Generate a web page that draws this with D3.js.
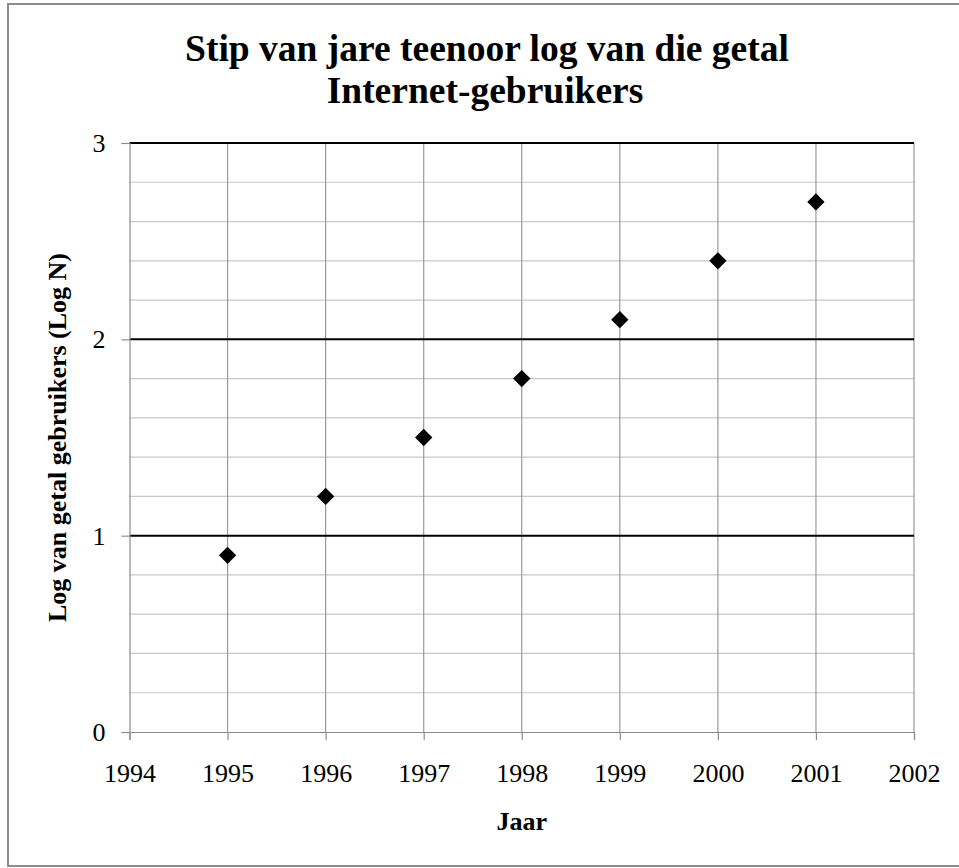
<!DOCTYPE html>
<html lang="af">
<head>
<meta charset="UTF-8">
<title>Stip van jare teenoor log van die getal Internet-gebruikers</title>
<script src="https://cdnjs.cloudflare.com/ajax/libs/d3/7.8.5/d3.min.js"></script>
<style>
  body { margin: 0; background: #fff; }
  text { font-family: "Liberation Serif", "Times New Roman", serif; fill: #000; }
</style>
</head>
<body>
<svg id="chart" width="959" height="868"></svg>
<script>
// data
var years = [1995, 1996, 1997, 1998, 1999, 2000, 2001];
var logN = [0.9, 1.2, 1.5, 1.8, 2.1, 2.4, 2.7];
var xTicks = [1994, 1995, 1996, 1997, 1998, 1999, 2000, 2001, 2002];
var yMajor = [0, 1, 2, 3];
var yMinor = [0.2, 0.4, 0.6, 0.8, 1.2, 1.4, 1.6, 1.8, 2.2, 2.4, 2.6, 2.8];

var svg = d3.select("#chart");

// outer frame
svg.append("rect")
    .attr("x", 8).attr("y", 4)
    .attr("width", 960).attr("height", 862)
    .attr("fill", "#fff")
    .attr("stroke", "#8c8c8c")
    .attr("stroke-width", 2);

var plotL = 129.5, plotR = 914, plotT = 143, plotB = 732;

var x = d3.scaleLinear().domain([1994, 2002]).range([plotL, plotR]);
var y = d3.scaleLinear().domain([0, 3]).range([plotB, plotT]);

var g = svg.append("g");

// minor horizontal grid
g.selectAll(".minor").data(yMinor).enter().append("line")
    .attr("x1", plotL).attr("x2", plotR)
    .attr("y1", function(d) { return y(d); })
    .attr("y2", function(d) { return y(d); })
    .attr("stroke", "#c8c8c8").attr("stroke-width", 1.2);

// vertical grid
g.selectAll(".vgrid").data(xTicks.slice(1)).enter().append("line")
    .attr("x1", function(d) { return x(d); })
    .attr("x2", function(d) { return x(d); })
    .attr("y1", plotT).attr("y2", plotB)
    .attr("stroke", "#9a9a9a").attr("stroke-width", 1.2);

// major horizontal grid
g.selectAll(".major").data(yMajor.slice(1)).enter().append("line")
    .attr("x1", plotL).attr("x2", plotR)
    .attr("y1", function(d) { return y(d); })
    .attr("y2", function(d) { return y(d); })
    .attr("stroke", "#000").attr("stroke-width", 2);

// axes
var xAxis = d3.axisBottom(x).tickValues(xTicks).tickFormat(d3.format("d"))
    .tickSize(8).tickPadding(42);
var yAxis = d3.axisLeft(y).tickValues(yMajor).tickFormat(d3.format("d"))
    .tickSize(8).tickPadding(16);

var gx = svg.append("g").attr("transform", "translate(0," + plotB + ")").call(xAxis);
var gy = svg.append("g").attr("transform", "translate(" + plotL + ",0)").call(yAxis);

[gx, gy].forEach(function(a) {
    a.select(".domain").attr("stroke", "#8c8c8c").attr("stroke-width", 1.2);
    a.selectAll(".tick line").attr("stroke", "#8c8c8c").attr("stroke-width", 1.2);
    a.selectAll(".tick text")
        .style("font-family", "'Liberation Serif', 'Times New Roman', serif")
        .style("font-size", "26px").attr("fill", "#000");
});
gx.selectAll(".tick text").attr("dy", "0");
gy.selectAll(".tick text").attr("dy", "0.33em");

// points
svg.selectAll(".pt").data(years).enter().append("path")
    .attr("d", d3.symbol().type(d3.symbolSquare).size(150))
    .attr("transform", function(d, i) {
        return "translate(" + x(d) + "," + y(logN[i]) + ") rotate(45)";
    })
    .attr("fill", "#000");

// titles
svg.append("text").attr("x", 487).attr("y", 61)
    .attr("text-anchor", "middle")
    .style("font-size", "37.5px").style("font-weight", "bold")
    .text("Stip van jare teenoor log van die getal");
svg.append("text").attr("x", 485).attr("y", 103)
    .attr("text-anchor", "middle")
    .style("font-size", "37.5px").style("font-weight", "bold")
    .text("Internet-gebruikers");

svg.append("text").attr("x", (plotL + plotR) / 2).attr("y", 830)
    .attr("text-anchor", "middle")
    .style("font-size", "26px").style("font-weight", "bold")
    .text("Jaar");

svg.append("text")
    .attr("transform", "translate(66," + (plotT + plotB) / 2 + ") rotate(-90)")
    .attr("text-anchor", "middle")
    .style("font-size", "26px").style("font-weight", "bold")
    .text("Log van getal gebruikers (Log N)");
</script>
</body>
</html>
